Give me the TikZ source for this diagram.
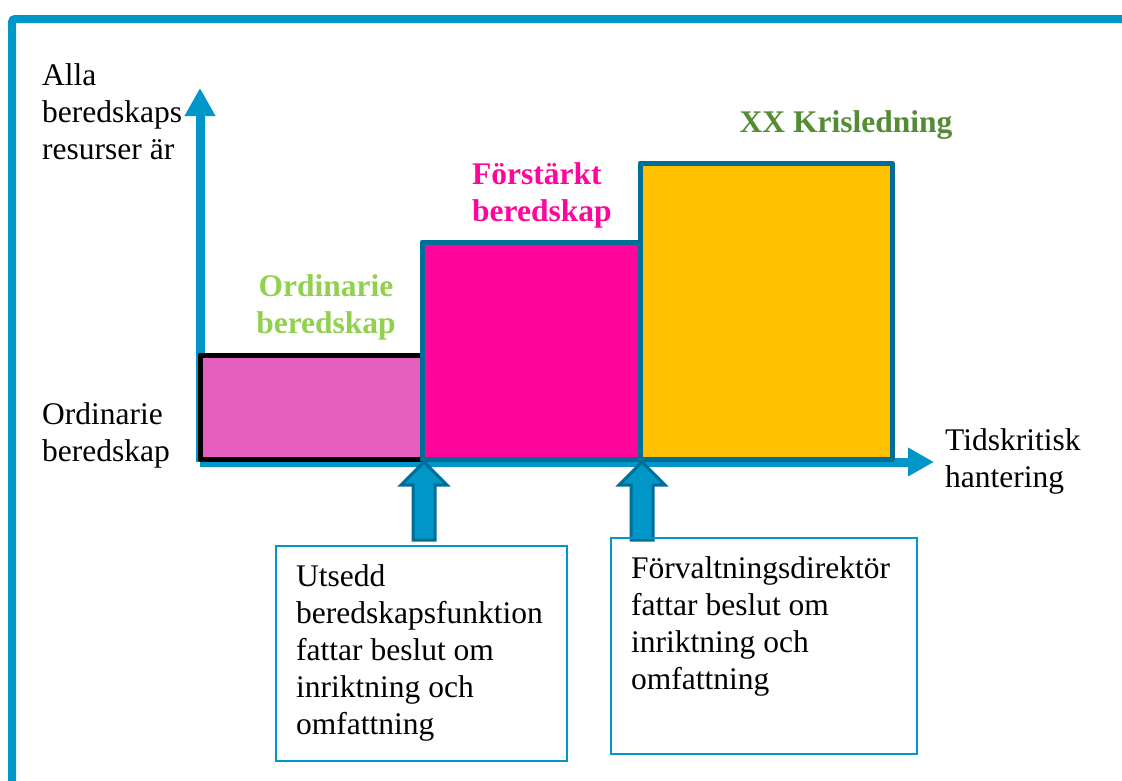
\documentclass[tikz,border=0pt]{standalone}
\usepackage{fontspec}
\setmainfont{Liberation Serif}
\usepackage{tikz}
\usepackage{xcolor}
\usetikzlibrary{arrows.meta}
\usetikzlibrary{positioning}

\definecolor{frameblue}{RGB}{0,150,200}
\definecolor{darkteal}{RGB}{0,110,150}
\definecolor{ordpink}{RGB}{230,95,190}
\definecolor{hotpink}{RGB}{255,5,155}
\definecolor{krisorange}{RGB}{255,192,0}
\definecolor{lightgreen}{RGB}{146,208,80}
\definecolor{krisgreen}{RGB}{84,140,53}

\begin{document}
\begin{tikzpicture}[x=1pt, y=-1pt,
    every node/.style={font=\fontsize{31.5}{37}\selectfont, inner sep=0pt},
    axis/.style={line width=9pt, frameblue},
    level/.style={line width=5pt, darkteal, line join=round},
    title/.style={font=\fontsize{31.5}{37}\selectfont\bfseries, align=center},
    infobox/.style={draw=frameblue, line width=1.8pt, anchor=north west},
    boxtext/.style={align=left, anchor=north west},
    blockarrow/.style={fill=frameblue, draw=darkteal, line width=3pt, line join=miter}]

    \useasboundingbox (0,0) rectangle (1122,780);

    % frame
    \draw[line width=8pt, frameblue, rounded corners=3pt] (12,800) |- (1140,19);

    \coordinate (O) at (200,462);
    \coordinate (Ytop) at (200,88);
    \coordinate (Xend) at (934,462);
    \coordinate (s1) at (424,462);
    \coordinate (s2) at (642,462);

    \draw[axis, -{Triangle[length=28pt, width=29pt]}] (O) -- (Ytop);
    \draw[axis, -{Triangle[length=26pt, width=27pt]}] (O) -- (Xend);

    % levels
    \draw[line width=5pt, black, fill=ordpink, line join=round] (200,355) rectangle (422,459);
    \draw[level, fill=hotpink] (422,242) rectangle (640,459);
    \draw[level, fill=krisorange] (640,163) rectangle (892,459);

    \foreach \p in {s1, s2}
        \draw[blockarrow] (\p) -- ++(23,23) -- ++(-12,0) -- ++(0,55) -- ++(-22,0)
            -- ++(0,-55) -- ++(-12,0) -- cycle;

    \node[align=left, anchor=west] (ylabel) at (42,112) {Alla\\beredskaps\\resurser är};
    \node[align=left, anchor=west] (basel) at (42,435) {Ordinarie\\beredskap};
    \node[align=left, anchor=west] (xlabel) at (945,461) {Tidskritisk\\hantering};

    \node[title, text=lightgreen] (ord) at (326,307) {Ordinarie\\beredskap};
    \node[title, text=hotpink, align=left, anchor=west] (forst) at (472,195) {Förstärkt\\beredskap};
    \node[title, text=krisgreen] (kris) at (846,125) {XX Krisledning};

    \node[infobox, minimum width=291pt, minimum height=215pt] (utbox) at (275,545) {};
    \node[boxtext, below right=19pt and 21pt of utbox.north west]
        (uttext) {Utsedd\\beredskapsfunktion\\fattar beslut om\\inriktning och\\omfattning};
    \node[infobox, minimum width=306pt, minimum height=216pt] (dirbox) at (610,537) {};
    \node[boxtext, below right=19pt and 21pt of dirbox.north west]
        (dirtext) {Förvaltningsdirektör\\fattar beslut om\\inriktning och\\omfattning};
\end{tikzpicture}
\end{document}
